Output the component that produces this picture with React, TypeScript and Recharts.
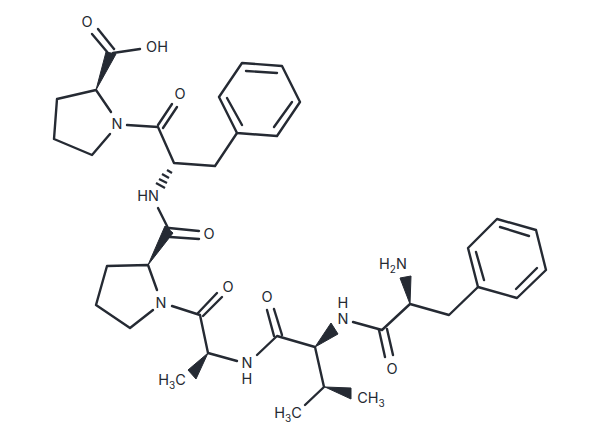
import { Scatter, ScatterChart, XAxis, YAxis } from 'recharts';

type Pt = [number, number];

const INK = '#252a33';

// skeleton chains
const carboxyl: Pt[] = [[113, 53], [140, 49]];
const carboxylO1: Pt[] = [[92, 34], [108, 53]];
const carboxylO2: Pt[] = [[98, 29], [114, 49]];
const proRing1: Pt[] = [[111, 112], [96, 90], [57, 99], [54, 139], [92, 155], [110, 134]];
const proAmide1: Pt[] = [[127, 125], [158, 127], [174, 163], [215, 166], [237, 133]];
const proKeto1a: Pt[] = [[158, 125], [172, 104]];
const proKeto1b: Pt[] = [[163, 128], [177, 107]];
const benzene1: Pt[] = [[237, 133], [219, 97], [242, 63], [282, 66], [300, 102], [277, 136], [237, 133]];
const benzene1In1: Pt[] = [[227, 98], [242, 125]];
const benzene1In2: Pt[] = [[246, 71], [277, 73]];
const benzene1In3: Pt[] = [[274, 127], [292, 102]];
const hnLink: Pt[] = [[158, 208], [169, 230]];
const keto2a: Pt[] = [[169, 228], [199, 231]];
const keto2b: Pt[] = [[170, 237], [199, 239]];
const proRing2: Pt[] = [[157, 290], [148, 265], [107, 266], [96, 305], [130, 328], [153, 310]];
const alaChain: Pt[] = [[172, 306], [200, 315], [208, 353], [237, 361]];
const keto3a: Pt[] = [[198, 313], [217, 293]];
const keto3b: Pt[] = [[203, 316], [222, 297]];
const valChain: Pt[] = [[257, 355], [277, 336], [315, 347], [324, 387], [305, 405]];
const keto4a: Pt[] = [[267, 310], [274, 336]];
const keto4b: Pt[] = [[274, 309], [282, 335]];
const pheChain: Pt[] = [[353, 322], [382, 330], [410, 304], [449, 315], [478, 287]];
const keto5a: Pt[] = [[379, 330], [385, 357]];
const keto5b: Pt[] = [[387, 329], [393, 355]];
const benzene2: Pt[] = [[478, 287], [468, 248], [497, 219], [536, 230], [546, 270], [517, 298], [478, 287]];
const benzene2In1: Pt[] = [[484, 280], [476, 252]];
const benzene2In2: Pt[] = [[500, 227], [529, 236]];
const benzene2In3: Pt[] = [[516, 289], [537, 268]];

const bonds: Pt[][] = [
  carboxyl, carboxylO1, carboxylO2, proRing1, proAmide1, proKeto1a, proKeto1b,
  benzene1, benzene1In1, benzene1In2, benzene1In3, hnLink, keto2a, keto2b,
  proRing2, alaChain, keto3a, keto3b, valChain, keto4a, keto4b,
  pheChain, keto5a, keto5b, benzene2, benzene2In1, benzene2In2, benzene2In3,
];

// hashed stereo bond
const hashBars: Pt[][] = [
  [[167, 170], [172, 173]],
  [[162, 174], [169, 178]],
  [[159, 179], [167, 183]],
  [[156, 183], [165, 188]],
];

// solid stereo bonds (narrow end first)
const wedges: Pt[][] = [
  [[96, 90], [106, 52], [116, 54]],
  [[148, 265], [165, 226], [173, 233]],
  [[208, 353], [188, 370], [196, 379]],
  [[315, 347], [331, 323], [338, 334]],
  [[325, 387], [351, 388], [351, 399]],
  [[410, 304], [400, 278], [411, 276]],
];

const atomText = ['O', 'OH', 'N', 'O', 'HN', 'O', 'N', 'O', 'N', 'H', 'O', 'N', 'H', 'O'];
const atomX = [87, 157, 117, 180, 148, 209, 161, 228, 247, 247, 267, 343, 343, 392];
const atomY = [22, 47, 124, 94, 196, 234, 303, 287, 363, 379, 297, 319, 303, 369];

// groups with a subscript digit
const subText = [
  ['H', '3', 'C'],
  ['H', '3', 'C'],
  ['CH', '3', ''],
  ['H', '2', 'N'],
];
const subX = [172, 288, 371, 393];
const subY = [380, 413, 398, 264];

const toRows = (pts: Pt[]) => pts.map(([x, y]) => ({ x, y }));

const atomRows = atomText.map((label, i) => ({ x: atomX[i], y: atomY[i], label }));
const subRows = subText.map((parts, i) => ({ x: subX[i], y: subY[i], parts }));

const textStyle = { fontFamily: 'Inter, sans-serif', fontSize: 14.5, fill: INK };

const AtomLabel = ({ cx, cy, payload }: any) => (
  <text x={cx} y={cy} dy="0.36em" textAnchor="middle" {...textStyle}>
    {payload.label}
  </text>
);

const SubLabel = ({ cx, cy, payload }: any) => (
  <text x={cx} y={cy} dy="0.36em" textAnchor="middle" {...textStyle}>
    {payload.parts[0]}
    <tspan fontSize={10} dy="4">{payload.parts[1]}</tspan>
    <tspan dy="-4">{payload.parts[2]}</tspan>
  </text>
);

const NoDot = () => null;

const App = () => (
  <div style={{ position: 'absolute', left: 0, top: 0, width: 600, height: 441, background: '#fff' }}>
    <ScatterChart width={600} height={441} margin={{ top: 0, right: 0, bottom: 0, left: 0 }}>
      <XAxis type="number" dataKey="x" domain={[0, 600]} hide />
      <YAxis type="number" dataKey="y" domain={[0, 441]} reversed hide />
      {bonds.map((pts, i) => (
        <Scatter
          key={`bond-${i}`}
          data={toRows(pts)}
          shape={NoDot}
          line={{ stroke: INK, strokeWidth: 2.4, strokeLinecap: 'round', strokeLinejoin: 'round' }}
          isAnimationActive={false}
        />
      ))}
      {hashBars.map((pts, i) => (
        <Scatter
          key={`hash-${i}`}
          data={toRows(pts)}
          shape={NoDot}
          line={{ stroke: INK, strokeWidth: 2.2 }}
          isAnimationActive={false}
        />
      ))}
      {wedges.map((pts, i) => (
        <Scatter
          key={`wedge-${i}`}
          data={toRows([...pts, pts[0]])}
          shape={NoDot}
          line={{ stroke: INK, strokeWidth: 1, fill: INK, strokeLinejoin: 'round' }}
          isAnimationActive={false}
        />
      ))}
      <Scatter data={atomRows} shape={AtomLabel} isAnimationActive={false} />
      <Scatter data={subRows} shape={SubLabel} isAnimationActive={false} />
    </ScatterChart>
  </div>
);

export default App;
